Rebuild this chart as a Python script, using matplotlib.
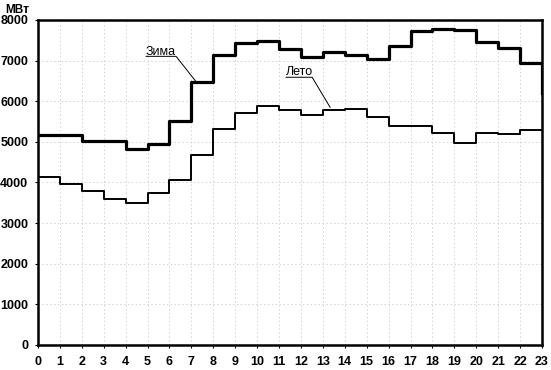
import numpy as np
import matplotlib
matplotlib.use("Agg")
import matplotlib.pyplot as plt

hours = np.arange(24)
winter = [5170, 5170, 5020, 5020, 4820, 4950, 5520, 6480, 7140, 7430, 7490, 7290,
          7100, 7220, 7140, 7040, 7350, 7740, 7780, 7760, 7450, 7300, 6950, 6200]
summer = [4130, 3960, 3780, 3600, 3490, 3750, 4060, 4680, 5310, 5720, 5890, 5790,
          5670, 5790, 5810, 5610, 5400, 5380, 5210, 4980, 5220, 5190, 5280, 5280]
y_ticks = [0, 1000, 2000, 3000, 4000, 5000, 6000, 7000, 8000]

plt.rcParams['font.family'] = ['Liberation Sans', 'DejaVu Sans']

fig = plt.figure(figsize=(5.51, 3.70), dpi=100)
ax = fig.add_axes([0.069, 0.0676, 0.9147, 0.8784])

ax.plot(hours, winter, drawstyle='steps-post', color='black', lw=2.3, zorder=3)
ax.plot(hours, summer, drawstyle='steps-post', color='black', lw=1.4, zorder=3)

ax.set_xlim(0, 23)
ax.set_ylim(0, 8000)
ax.set_xticks(hours)
ax.set_yticks(y_ticks)
ax.tick_params(axis='both', labelsize=9, length=2, width=0.8)
ax.tick_params(axis='x', pad=6)
ax.tick_params(axis='y', pad=5)
for lab in ax.get_xticklabels() + ax.get_yticklabels():
    lab.set_fontweight('bold')

ax.grid(True, color='#d2d2d2', linestyle=(0, (1.5, 2.5)), linewidth=0.7)
for s in ax.spines.values():
    s.set_linewidth(1.8)

# labels with underline and leader lines
ax.text(4.93, 7150, 'Зима', fontsize=9, va='baseline', ha='left')
ax.plot([4.93, 6.3, 7.2], [7105, 7105, 6490], color='black', lw=0.7)
ax.text(11.32, 6635, 'Лето', fontsize=9, va='baseline', ha='left')
ax.plot([11.32, 12.51, 13.33], [6590, 6590, 5850], color='black', lw=0.7)

fig.text(0.01, 0.99, 'МВт', fontsize=8.5, fontweight='bold', va='top', ha='left')

fig.savefig('out.png', dpi=100)
